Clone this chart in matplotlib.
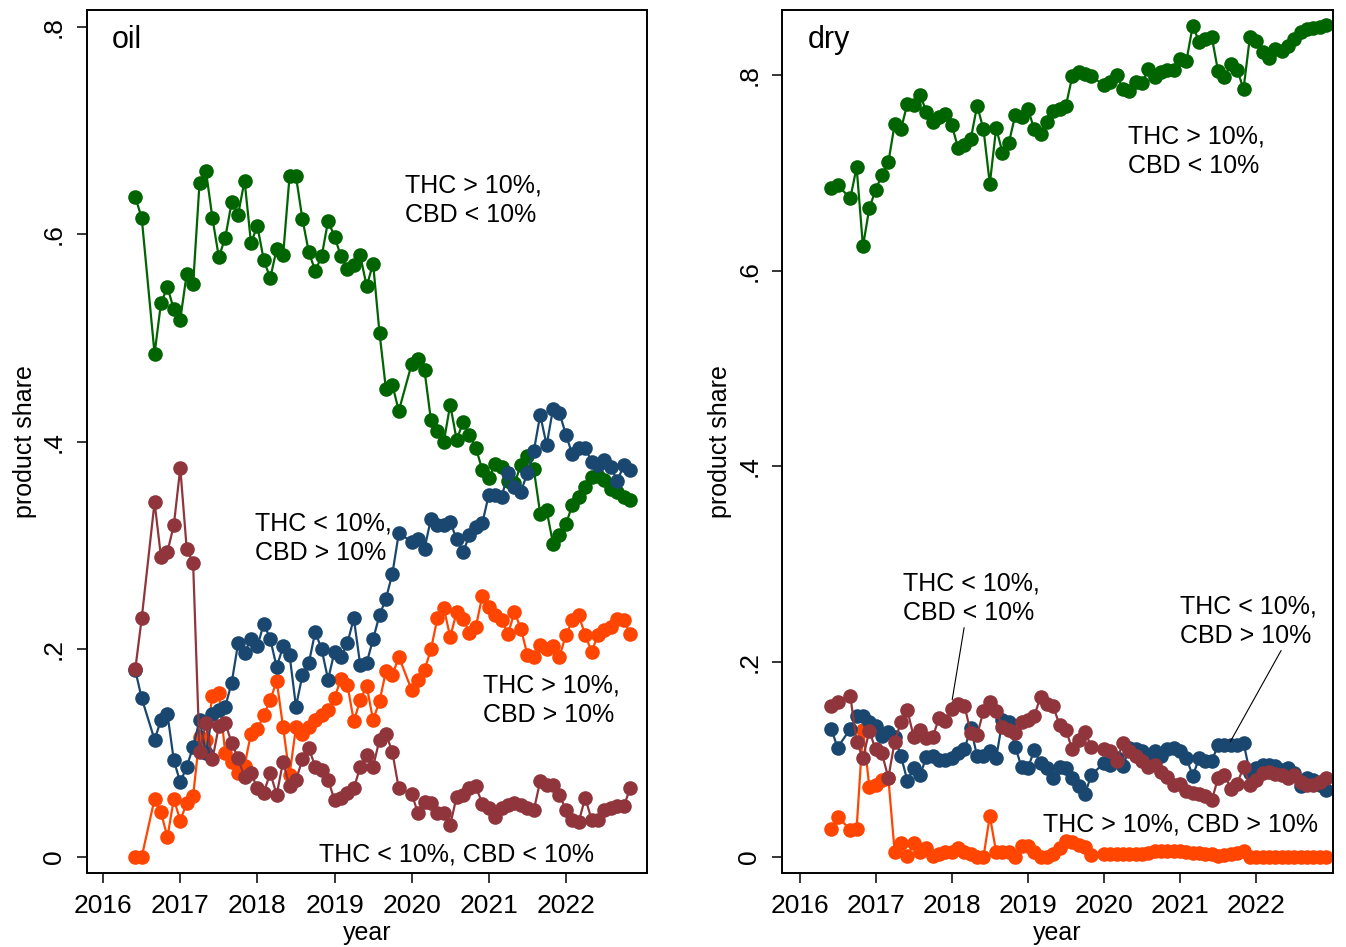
import pandas as pd
from matplotlib import pyplot as plt

plt.rcParams['font.family'] = ['Liberation Sans', 'DejaVu Sans']

# monthly observations from Jun 2016; Aug 2016 and Dec 2019 are not in the data
SKIP = ('2016-08', '2019-12')


def month_axis(last):
    months = [m for m in pd.period_range('2016-06', last, freq='M') if str(m) not in SKIP]
    return [m.year + (m.month - 1) / 12 for m in months]


oil_dates = month_axis('2022-11')
dry_dates = month_axis('2022-12')

# oil: share of products per THC / CBD class
oil_hi_thc_lo_cbd = [0.636, 0.616, 0.485, 0.534, 0.549, 0.528,
                     0.518, 0.562, 0.552, 0.650, 0.661, 0.616, 0.578, 0.597, 0.631, 0.619, 0.652, 0.592,
                     0.608, 0.575, 0.558, 0.586, 0.580, 0.656, 0.656, 0.615, 0.583, 0.565, 0.579, 0.613,
                     0.598, 0.579, 0.567, 0.571, 0.580, 0.550, 0.572, 0.505, 0.451, 0.455, 0.430,
                     0.475, 0.480, 0.469, 0.421, 0.411, 0.400, 0.436, 0.402, 0.419, 0.407, 0.394, 0.373,
                     0.365, 0.379, 0.376, 0.362, 0.360, 0.378, 0.386, 0.374, 0.331, 0.334, 0.302, 0.310,
                     0.321, 0.339, 0.347, 0.357, 0.366, 0.367, 0.363, 0.355, 0.352, 0.347, 0.344]
oil_lo_thc_hi_cbd = [0.180, 0.153, 0.113, 0.132, 0.138, 0.093,
                     0.072, 0.087, 0.106, 0.132, 0.100, 0.138, 0.142, 0.145, 0.168, 0.206, 0.197, 0.210,
                     0.203, 0.225, 0.210, 0.183, 0.203, 0.195, 0.145, 0.175, 0.187, 0.217, 0.200, 0.171,
                     0.198, 0.193, 0.206, 0.230, 0.185, 0.187, 0.210, 0.233, 0.249, 0.273, 0.312,
                     0.304, 0.306, 0.297, 0.326, 0.320, 0.320, 0.323, 0.306, 0.294, 0.310, 0.318, 0.322,
                     0.349, 0.349, 0.347, 0.370, 0.357, 0.352, 0.370, 0.391, 0.426, 0.397, 0.432, 0.428,
                     0.407, 0.388, 0.394, 0.394, 0.381, 0.378, 0.383, 0.376, 0.362, 0.378, 0.373]
oil_hi_thc_hi_cbd = [0.000, 0.000, 0.056, 0.043, 0.019, 0.056,
                     0.035, 0.052, 0.059, 0.116, 0.113, 0.155, 0.158, 0.100, 0.092, 0.081, 0.088, 0.119,
                     0.123, 0.137, 0.151, 0.170, 0.125, 0.079, 0.125, 0.119, 0.125, 0.132, 0.137, 0.142,
                     0.153, 0.172, 0.166, 0.131, 0.151, 0.165, 0.132, 0.150, 0.179, 0.175, 0.193,
                     0.161, 0.171, 0.180, 0.200, 0.230, 0.240, 0.212, 0.236, 0.229, 0.216, 0.222, 0.252,
                     0.241, 0.233, 0.228, 0.215, 0.236, 0.220, 0.195, 0.193, 0.204, 0.200, 0.203, 0.193,
                     0.214, 0.228, 0.233, 0.214, 0.198, 0.214, 0.219, 0.222, 0.229, 0.228, 0.215]
oil_lo_thc_lo_cbd = [0.181, 0.230, 0.342, 0.289, 0.294, 0.320,
                     0.375, 0.297, 0.283, 0.101, 0.129, 0.094, 0.126, 0.129, 0.110, 0.095, 0.077, 0.081,
                     0.066, 0.062, 0.081, 0.060, 0.092, 0.068, 0.074, 0.094, 0.105, 0.087, 0.084, 0.074,
                     0.055, 0.057, 0.062, 0.066, 0.087, 0.098, 0.087, 0.113, 0.119, 0.101, 0.066,
                     0.061, 0.042, 0.053, 0.052, 0.042, 0.042, 0.031, 0.058, 0.060, 0.066, 0.068, 0.051,
                     0.047, 0.039, 0.047, 0.050, 0.052, 0.050, 0.047, 0.045, 0.073, 0.069, 0.069, 0.060,
                     0.045, 0.036, 0.034, 0.057, 0.036, 0.036, 0.045, 0.047, 0.049, 0.049, 0.066]

# dry flower
dry_hi_thc_lo_cbd = [0.685, 0.688, 0.674, 0.706, 0.625, 0.664,
                     0.683, 0.698, 0.711, 0.750, 0.745, 0.771, 0.770, 0.780, 0.763, 0.752, 0.757, 0.760,
                     0.749, 0.726, 0.729, 0.735, 0.769, 0.745, 0.689, 0.746, 0.721, 0.731, 0.759, 0.757,
                     0.766, 0.745, 0.740, 0.752, 0.764, 0.766, 0.769, 0.799, 0.803, 0.801, 0.799,
                     0.790, 0.793, 0.800, 0.786, 0.784, 0.793, 0.792, 0.807, 0.798, 0.803, 0.806, 0.806,
                     0.817, 0.815, 0.851, 0.834, 0.837, 0.839, 0.804, 0.798, 0.812, 0.806, 0.786, 0.839,
                     0.835, 0.824, 0.818, 0.827, 0.825, 0.830, 0.837, 0.844, 0.847, 0.849, 0.850, 0.852]
dry_lo_thc_hi_cbd = [0.131, 0.112, 0.131, 0.144, 0.144, 0.138,
                     0.134, 0.124, 0.128, 0.123, 0.103, 0.078, 0.091, 0.084, 0.102, 0.103, 0.099, 0.099,
                     0.101, 0.106, 0.110, 0.132, 0.103, 0.103, 0.108, 0.101, 0.140, 0.138, 0.113, 0.092,
                     0.091, 0.109, 0.096, 0.091, 0.081, 0.092, 0.091, 0.081, 0.073, 0.064, 0.084,
                     0.096, 0.094, 0.101, 0.093, 0.111, 0.110, 0.108, 0.103, 0.108, 0.103, 0.110, 0.111,
                     0.108, 0.101, 0.083, 0.101, 0.098, 0.098, 0.115, 0.115, 0.115, 0.115, 0.117, 0.086,
                     0.091, 0.094, 0.094, 0.093, 0.089, 0.091, 0.086, 0.073, 0.081, 0.079, 0.074, 0.068]
dry_hi_thc_hi_cbd = [0.029, 0.041, 0.028, 0.029, 0.130, 0.072,
                     0.074, 0.079, 0.081, 0.005, 0.014, 0.001, 0.014, 0.005, 0.009, 0.001, 0.003, 0.005,
                     0.005, 0.009, 0.005, 0.003, 0.000, 0.000, 0.042, 0.005, 0.005, 0.005, 0.000, 0.011,
                     0.011, 0.005, 0.000, 0.000, 0.003, 0.009, 0.016, 0.015, 0.012, 0.010, 0.002,
                     0.003, 0.003, 0.003, 0.003, 0.003, 0.003, 0.003, 0.004, 0.006, 0.006, 0.006, 0.006,
                     0.006, 0.005, 0.004, 0.004, 0.003, 0.003, 0.001, 0.002, 0.003, 0.004, 0.006, 0.000,
                     0.000, 0.000, 0.000, 0.000, 0.000, 0.000, 0.000, 0.000, 0.000, 0.000, 0.000, 0.000]
dry_lo_thc_lo_cbd = [0.154, 0.159, 0.165, 0.118, 0.101, 0.129,
                     0.110, 0.106, 0.081, 0.118, 0.138, 0.150, 0.123, 0.130, 0.122, 0.123, 0.142, 0.139,
                     0.151, 0.157, 0.155, 0.127, 0.125, 0.149, 0.159, 0.149, 0.133, 0.130, 0.127, 0.138,
                     0.140, 0.144, 0.164, 0.157, 0.154, 0.135, 0.130, 0.110, 0.120, 0.128, 0.113,
                     0.110, 0.108, 0.098, 0.117, 0.108, 0.103, 0.098, 0.092, 0.094, 0.087, 0.082, 0.074,
                     0.075, 0.067, 0.065, 0.064, 0.062, 0.058, 0.081, 0.084, 0.070, 0.075, 0.092, 0.074,
                     0.079, 0.086, 0.087, 0.085, 0.084, 0.081, 0.084, 0.077, 0.074, 0.074, 0.077, 0.081]

years = [2016, 2017, 2018, 2019, 2020, 2021, 2022]
share_ticks = [0, 0.2, 0.4, 0.6, 0.8]
share_labels = ['0', '.2', '.4', '.6', '.8']

GREEN, ORANGE, NAVY, MAROON = '#006400', '#ff4500', '#1a476f', '#90353b'
FS = 18
LS = 1.3

fig = plt.figure(figsize=(13.46, 9.47), dpi=100)
ax1 = fig.add_axes([0.0646, 0.0782, 0.4160, 0.9113])
ax2 = fig.add_axes([0.5810, 0.0782, 0.4094, 0.9113])


def draw(ax, dates, series):
    for values, color in series:
        ax.plot(dates, values, '-o', color=color, lw=1.6, ms=10.5, mec='none')
    ax.set_xticks(years)
    ax.set_xticklabels([str(y) for y in years], fontsize=19)
    ax.set_yticks(share_ticks)
    ax.set_yticklabels(share_labels, fontsize=19, rotation=90, va='center')
    ax.tick_params(direction='out', length=7, width=1.1, pad=8)
    for sp in ax.spines.values():
        sp.set_linewidth(1.4)
    ax.set_xlabel('year', fontsize=FS, labelpad=2)
    ax.set_ylabel('product share', fontsize=FS, labelpad=4)


draw(ax1, oil_dates, [(oil_hi_thc_lo_cbd, GREEN), (oil_hi_thc_hi_cbd, ORANGE),
                      (oil_lo_thc_hi_cbd, NAVY), (oil_lo_thc_lo_cbd, MAROON)])
ax1.set_xlim(2015.79, 2023.05)
ax1.set_ylim(-0.0154, 0.8164)
ax1.text(2016.11, 0.787, 'oil', fontsize=22, va='center')
ax1.text(2019.92, 0.633, 'THC > 10%,\nCBD < 10%', fontsize=FS, va='center', linespacing=LS)
ax1.text(2017.965, 0.307, 'THC < 10%,\nCBD > 10%', fontsize=FS, va='center', linespacing=LS)
ax1.text(2020.93, 0.151, 'THC > 10%,\nCBD > 10%', fontsize=FS, va='center', linespacing=LS)
ax1.text(2018.805, 0.002, 'THC < 10%, CBD < 10%', fontsize=FS, va='center')

draw(ax2, dry_dates, [(dry_hi_thc_lo_cbd, GREEN), (dry_hi_thc_hi_cbd, ORANGE),
                      (dry_lo_thc_hi_cbd, NAVY), (dry_lo_thc_lo_cbd, MAROON)])
ax2.set_xlim(2015.77, 2023.01)
ax2.set_ylim(-0.0164, 0.867)
ax2.text(2016.114, 0.836, 'dry', fontsize=22, va='center')
ax2.text(2020.32, 0.722, 'THC > 10%,\nCBD < 10%', fontsize=FS, va='center', linespacing=LS)
ax2.annotate('THC < 10%,\nCBD < 10%', xy=(2018.006, 0.161), xytext=(2017.36, 0.265),
             fontsize=FS, va='center', linespacing=LS,
             arrowprops=dict(arrowstyle='-', color='black', lw=0.8, shrinkA=0, shrinkB=0,
                             relpos=(0.45, 0.0)))
ax2.annotate('THC < 10%,\nCBD > 10%', xy=(2021.66, 0.118), xytext=(2021.0, 0.2416),
             fontsize=FS, va='center', linespacing=LS,
             arrowprops=dict(arrowstyle='-', color='black', lw=0.8, shrinkA=0, shrinkB=0,
                             relpos=(0.75, 0.0)))
ax2.text(2019.2, 0.033, 'THC > 10%, CBD > 10%', fontsize=FS, va='center')

fig.savefig('out.png', dpi=100)
